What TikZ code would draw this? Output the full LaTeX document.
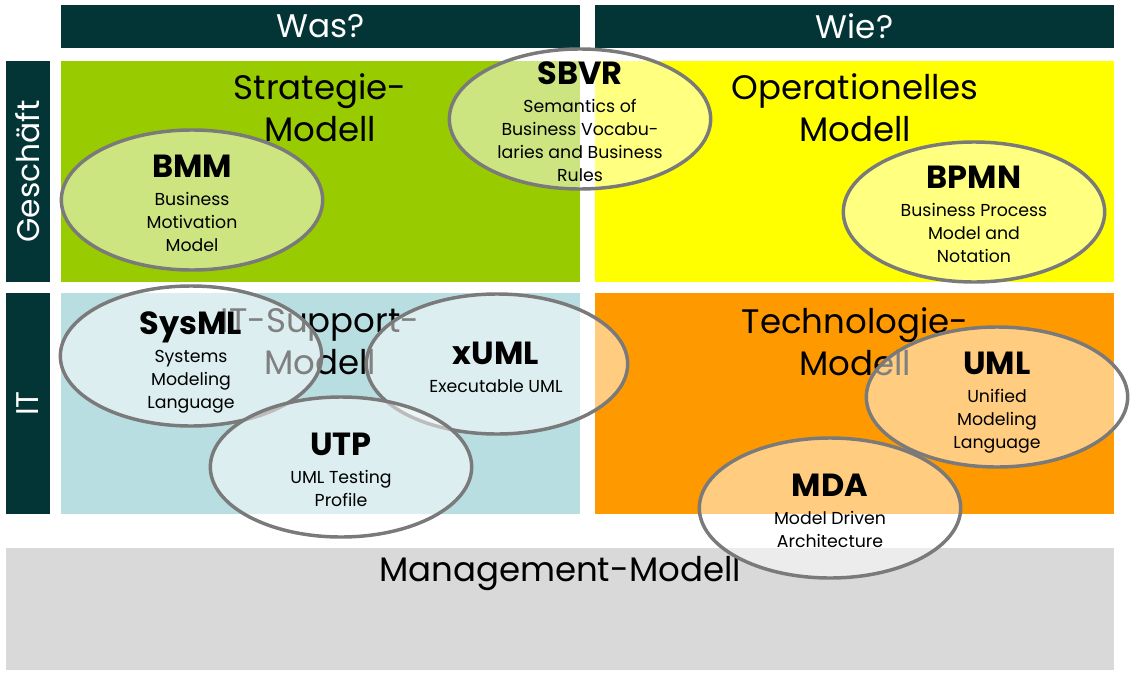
\documentclass[tikz,border=0pt]{standalone}
\usepackage{fontspec}
\setmainfont{Poppins}
\usepackage{xcolor}
\usepackage{tikz}
\usetikzlibrary{positioning,shapes.geometric}

\definecolor{headteal}{HTML}{033537}
\definecolor{stratgreen}{HTML}{99CC00}
\definecolor{opyellow}{HTML}{FFFF00}
\definecolor{itblue}{HTML}{B9DEE2}
\definecolor{techorange}{HTML}{FF9900}
\definecolor{mgmtgray}{HTML}{D9D9D9}
\definecolor{ovalgray}{HTML}{7A7A7A}

\newcommand{\acro}[1]{{\fontsize{24}{24}\selectfont\bfseries #1}\\[3.75pt]}

\begin{document}
\begin{tikzpicture}[
  x=0.75pt, y=-0.75pt,
  cell/.style={rectangle, inner sep=0pt, outer sep=0pt, minimum width=389.25pt, minimum height=165.75pt},
  head/.style={rectangle, fill=headteal, text=white, inner sep=0pt, outer sep=0pt, minimum width=389.25pt, minimum height=32.25pt, font=\fontsize{24.5}{30}\selectfont},
  side/.style={rectangle, fill=headteal, inner sep=0pt, outer sep=0pt, minimum width=33pt, minimum height=165.75pt},
  sidetext/.style={rotate=90, text=white, inner sep=0pt, font=\fontsize{23.5}{30}\selectfont},
  big/.style={align=center, inner sep=0pt, font=\fontsize{25.5}{31.5}\selectfont},
  oval/.style={ellipse, draw=ovalgray, line width=2.6pt, fill=white, fill opacity=0.5, inner sep=0pt, minimum width=196pt, minimum height=105pt},
  ovaltext/.style={align=center, inner sep=0pt, font=\fontsize{13}{17.25}\selectfont}
]
\useasboundingbox (0,0) rectangle (1135,674);

\node[cell, fill=stratgreen] (strat) at (320.5,171.5) {};
\node[cell, fill=opyellow, right=11.25pt of strat] (oper) {};
\node[cell, fill=itblue, below=8.25pt of strat] (itsup) {};
\node[cell, fill=techorange, right=11.25pt of itsup] (tech) {};
\node[head, above=9.75pt of strat] (was) {Was?};
\node[head, above=9.75pt of oper] (wie) {Wie?};
\node[side, left=8.25pt of strat] (gesch) {};
\node[side, left=8.25pt of itsup] (itbar) {};
\node[sidetext] (geschtext) at (gesch) {Geschäft};
\node[sidetext] (ittext) at (itbar) {IT};
\node[rectangle, fill=mgmtgray, inner sep=0pt, minimum width=831pt, minimum height=91.5pt] (mgmt) at (560,609) {};

\node[big] (strattext) at (320,108) {Strategie-\\Modell};
\node[big] (opertext) at (855,108) {Operationelles\\Modell};
\node[big] (itsuptext) at (320,342) {IT-Support-\\Modell};
\node[big] (techtext) at (855,342) {Technologie-\\Modell};
\node[big] (mgmttext) at (560,574) {Management-Modell};

\node[oval] (bmm) at (192,200) {};
\node[ovaltext] (bmmtext) at (192,203.5) {\acro{BMM}Business\\Motivation\\Model};
\node[oval] (sbvr) at (580,119) {};
\node[ovaltext] (sbvrtext) at (580,122) {\acro{SBVR}Semantics of\\Business Vocabu-\\laries and Business\\Rules};
\node[oval] (bpmn) at (974,212) {};
\node[ovaltext] (bpmntext) at (974,214.5) {\acro{BPMN}Business Process\\Model and\\Notation};
\node[oval] (sysml) at (191,356) {};
\node[ovaltext] (sysmltext) at (191,362.5) {\acro{SysML}Systems\\Modeling\\Language};
\node[oval] (xuml) at (497,364) {};
\node[ovaltext] (xumltext) at (496,367.5) {\acro{xUML}Executable UML};
\node[oval] (utp) at (341,467) {};
\node[ovaltext] (utptext) at (341,469.5) {\acro{UTP}UML Testing\\Profile};
\node[oval] (uml) at (997,397) {};
\node[ovaltext] (umltext) at (997,402.5) {\acro{UML}Unified\\Modeling\\Language};
\node[oval] (mda) at (830,508) {};
\node[ovaltext] (mdatext) at (830,511) {\acro{MDA}Model Driven\\Architecture};
\end{tikzpicture}
\end{document}
